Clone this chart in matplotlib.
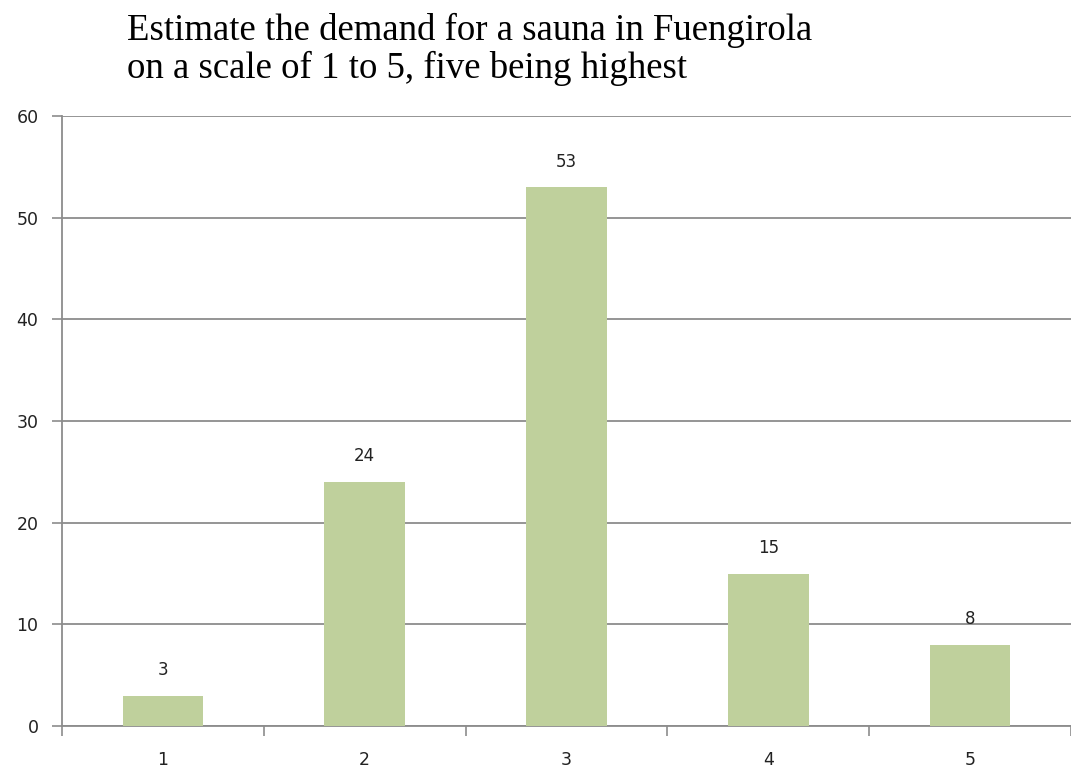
import matplotlib
matplotlib.use("Agg")
import matplotlib.pyplot as plt

categories = ["1", "2", "3", "4", "5"]
values = [3, 24, 53, 15, 8]
yticks = [0, 10, 20, 30, 40, 50, 60]
title_lines = ["Estimate the demand for a sauna in Fuengirola",
               "on a scale of 1 to 5, five being highest"]

fig = plt.figure(figsize=(10.71, 7.71), dpi=100)
ax = fig.add_axes([62/1071, 1-726/771, (1071-62)/1071, (726-116)/771])

x = list(range(len(categories)))
bars = ax.bar(x, values, width=0.4, color="#BFD09C", zorder=3)
for xi, v in zip(x, values):
    ax.annotate(str(v), (xi, v), xytext=(0, 12), textcoords="offset points",
                ha="center", va="bottom", fontsize=12, color="#222222")

ax.set_xlim(-0.5, len(categories) - 0.5)
ax.set_ylim(0, 60)
ax.set_yticks(yticks)
ax.set_yticklabels([str(t) for t in yticks], fontsize=12.5, color="#222222")
ax.yaxis.grid(True, color="#8C8C8C", linewidth=1.3, zorder=0)
ax.set_axisbelow(True)

# x: tick marks at category boundaries, labels centered
ax.set_xticks([i - 0.5 for i in range(len(categories) + 1)])
ax.set_xticklabels([])
ax.set_xticks(x, minor=True)
ax.set_xticklabels(categories, minor=True, fontsize=12.5, color="#222222")
ax.tick_params(axis="x", which="major", length=7, width=1.2, color="#8C8C8C", direction="out")
ax.tick_params(axis="x", which="minor", length=0, pad=18)
ax.tick_params(axis="y", length=7, width=1.2, color="#8C8C8C", direction="out", pad=10)

for s in ["top", "right"]:
    ax.spines[s].set_visible(False)
for s in ["left", "bottom"]:
    ax.spines[s].set_color("#8C8C8C")
    ax.spines[s].set_linewidth(1.3)

fig.text(127/1071, 1-13/771, "\n".join(title_lines), ha="left", va="top",
         fontsize=26.5, family="Liberation Serif", color="black", linespacing=1.1)

fig.savefig("out.png", dpi=100)
